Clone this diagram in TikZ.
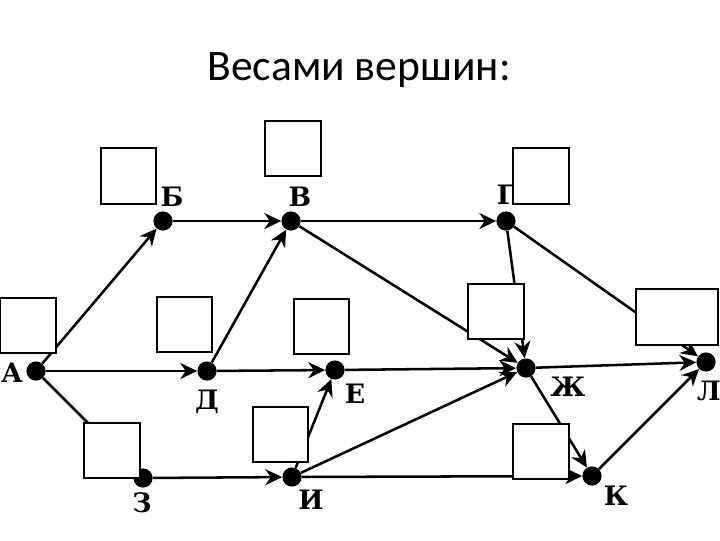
\documentclass[tikz,border=0pt]{standalone}
\usepackage{fontspec}
\setmainfont{Carlito}
\newfontfamily\lblfont{DejaVu Serif}
\usetikzlibrary{arrows.meta}

\begin{document}
\begin{tikzpicture}[x=0.025cm, y=-0.025cm,
    dot/.style={circle, fill, inner sep=0pt, minimum size=0.48cm},
    lbl/.style={font=\lblfont\bfseries\fontsize{19}{19}\selectfont},
    arc/.style={line width=1.8pt, -{Stealth[length=0.42cm, width=0.4cm]}},
    wbox/.style={draw, line width=1.4pt, fill=white, minimum size=1.38cm, inner sep=0pt}]
  \useasboundingbox (0,0) rectangle (720,540);
  \node[font=\fontsize{31}{31}\selectfont] (title) at (359,70) {Весами вершин:};

  \node[dot] (a) at (36,371)  {};
  \node[dot] (b) at (163,221) {};
  \node[dot] (v) at (291,221) {};
  \node[dot] (g) at (506,221) {};
  \node[dot] (d) at (207,371) {};
  \node[dot] (e) at (335,370) {};
  \node[dot] (zh) at (526,368) {};
  \node[dot] (l) at (706,362) {};
  \node[dot] (z) at (143,478) {};
  \node[dot] (i) at (292,477) {};
  \node[dot] (k) at (592,476) {};

  \node[lbl] (la)  at (12,373)  {А};
  \node[lbl] (lb)  at (172,197) {Б};
  \node[lbl] (lv)  at (300,197) {В};
  \node[lbl] (lg)  at (506,195) {Г};
  \node[lbl] (ld)  at (207,402) {Д};
  \node[lbl] (le)  at (355,394) {Е};
  \node[lbl] (lzh) at (568,387) {Ж};
  \node[lbl] (ll)  at (709,391) {Л};
  \node[lbl] (lz)  at (142,503) {З};
  \node[lbl] (li)  at (311,500) {И};
  \node[lbl] (lk)  at (616,496) {К};

  \draw[arc] (a) -- (b);
  \draw[arc] (a) -- (d);
  \draw[arc] (a) -- (z);
  \draw[arc] (b) -- (v);
  \draw[arc] (d) -- (v);
  \draw[arc] (d) -- (e);
  \draw[arc] (v) -- (g);
  \draw[arc] (v) -- (zh);
  \draw[arc] (g) -- (zh);
  \draw[arc] (g) -- (l);
  \draw[arc] (e) -- (zh);
  \draw[arc] (i) -- (e);
  \draw[arc] (i) -- (zh);
  \draw[arc] (z) -- (i);
  \draw[arc] (i) -- (k);
  \draw[arc] (zh) -- (k);
  \draw[arc] (zh) -- (l);
  \draw[arc] (k) -- (l);

  % weight boxes
  \node[wbox] (wa)  at (28,325.5)  {};
  \node[wbox] (wb)  at (128.5,176) {};
  \node[wbox] (wv)  at (293,148.5) {};
  \node[wbox] (wg)  at (541,176)   {};
  \node[wbox] (wd)  at (184.5,324.5) {};
  \node[wbox] (we)  at (321.5,326.5) {};
  \node[wbox] (wzh) at (496,311.5) {};
  \node[wbox, minimum width=2.05cm] (wl) at (677,317) {};
  \node[wbox] (wz)  at (112,450.5) {};
  \node[wbox] (wi)  at (280.5,434.5) {};
  \node[wbox] (wk)  at (541,451.5) {};
\end{tikzpicture}
\end{document}
